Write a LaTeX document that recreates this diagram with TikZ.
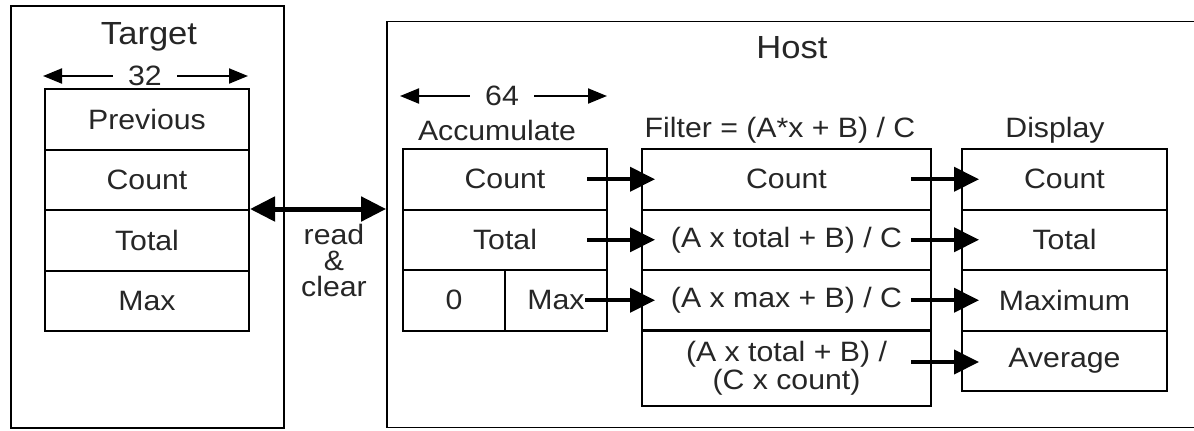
\documentclass[tikz,border=0pt]{standalone}
\usepackage{fontspec}
\setmainfont{Liberation Sans}[FakeStretch=1.08]
\usetikzlibrary{arrows.meta}
\tikzset{
  cell/.style={draw, line width=1pt, inner sep=0pt, font=\cellfont, text=black!85},
  outerbox/.style={draw, line width=0.9pt},
  flow/.style={line width=2pt, -{Triangle[length=12.5pt,width=12pt]}},
  rwarrow/.style={line width=2.5pt, {Triangle[length=12.5pt,width=12pt]}-{Triangle[length=12.5pt,width=12pt]}},
  dimarrow/.style={line width=1pt, -{Triangle[length=9.5pt,width=7.5pt]}},
  title/.style={font=\titlefont, inner sep=0pt, text=black!85},
  lbl/.style={font=\cellfont, inner sep=0pt, text=black!85},
}
\newcommand{\cellfont}{\fontsize{14}{16}\selectfont}
\newcommand{\titlefont}{\fontsize{16}{18}\selectfont}
\begin{document}
\begin{tikzpicture}[x=0.5pt, y=-0.5pt]
\useasboundingbox (0,0) rectangle (1194,430);
\clip (0,0) rectangle (1194,430);
% outer boxes
\draw[outerbox] (11,6) rectangle (284,428);
\node[outerbox, inner sep=0pt, minimum width=406.5pt, minimum height=203pt] (host) at (793.5,224.5) {};
% titles
\node[title] (ttl) at (149,37) {Target};
\node[title] (htl) at (792,48) {Host};
% dimension 32
\node[lbl, inner xsep=7.5pt] (n32) at (145,76) {32};
\coordinate (d32a) at (43,76);
\coordinate (d32b) at (248,76);
\draw[dimarrow] (n32.west) -- (d32a);
\draw[dimarrow] (n32.east) -- (d32b);
% dimension 64
\node[lbl, inner xsep=7.5pt] (n64) at (502,96) {64};
\coordinate (d64a) at (400,96);
\coordinate (d64b) at (607,96);
\draw[dimarrow] (n64.west) -- (d64a);
\draw[dimarrow] (n64.east) -- (d64b);
% Target stack
\node[cell, minimum width=102pt, minimum height=30.25pt] (tc1) at (147,119.25) {Previous};
\node[cell, minimum width=102pt, minimum height=30.25pt] (tc2) at (147,179.75) {Count};
\node[cell, minimum width=102pt, minimum height=30.25pt] (tc3) at (147,240.25) {Total};
\node[cell, minimum width=102pt, minimum height=30.25pt] (tc4) at (147,300.75) {Max};
% read & clear
\node[lbl, align=center, font=\fontsize{14}{13}\selectfont] (rc) at (334,260) {read\\\&\\clear};
\draw[rwarrow] (tc3.north east) -- (tc3.north east -| host.west);
% section labels
\node[lbl] (accl) at (497,130) {Accumulate};
\node[lbl] (fill) at (780,130) {Filter = (A*x + B) / C};
\node[lbl] (dspl) at (1055,130) {Display};
% Accumulate
\node[cell, minimum width=102pt, minimum height=30.25pt] (ac1) at (505,179.25) {Count};
\node[cell, minimum width=102pt, minimum height=30.25pt] (ac2) at (505,239.75) {Total};
\node[cell, minimum width=51pt, minimum height=30.25pt] (ac3) at (454,300.25) {0};
\node[cell, minimum width=51pt, minimum height=30.25pt] (ac4) at (556,300.25) {Max};
% Filter
\node[cell, minimum width=144.5pt, minimum height=30.25pt] (fc1) at (786.5,179.25) {Count};
\node[cell, minimum width=144.5pt, minimum height=30.25pt] (fc2) at (786.5,239.75) {(A x total + B) / C};
\node[cell, minimum width=144.5pt, minimum height=30.25pt] (fc3) at (786.5,300.25) {(A x max + B) / C};
\node[cell, minimum width=144.5pt, minimum height=37.75pt, align=center, font=\fontsize{14}{13}\selectfont] (fc4) at (786.5,368) {(A x total + B) /\\(C x count)};
% Display
\node[cell, minimum width=102.5pt, minimum height=30.25pt] (dc1) at (1064.5,179.25) {Count};
\node[cell, minimum width=102.5pt, minimum height=30.25pt] (dc2) at (1064.5,239.75) {Total};
\node[cell, minimum width=102.5pt, minimum height=30.25pt] (dc3) at (1064.5,300.25) {Maximum};
\node[cell, minimum width=102.5pt, minimum height=30.25pt] (dc4) at (1064.5,360.75) {Average};
% flow arrows accumulate -> filter
\coordinate (a1) at (587,179.25);
\coordinate (a2) at (587,239.75);
\coordinate (a3) at (585,300.25);
\draw[flow] (a1) -- ([xshift=7pt]fc1.west);
\draw[flow] (a2) -- ([xshift=7pt]fc2.west);
\draw[flow] (a3) -- ([xshift=7pt]fc3.west);
% flow arrows filter -> display
\coordinate (f1) at (911,179.25);
\coordinate (f2) at (911,239.75);
\coordinate (f3) at (911,300.25);
\coordinate (f4) at (911,362);
\draw[flow] (f1) -- ([xshift=9pt]dc1.west);
\draw[flow] (f2) -- ([xshift=9pt]dc2.west);
\draw[flow] (f3) -- ([xshift=9pt]dc3.west);
\draw[flow] (f4) -- ([xshift=9pt]dc4.west |- f4);
\end{tikzpicture}
\end{document}
